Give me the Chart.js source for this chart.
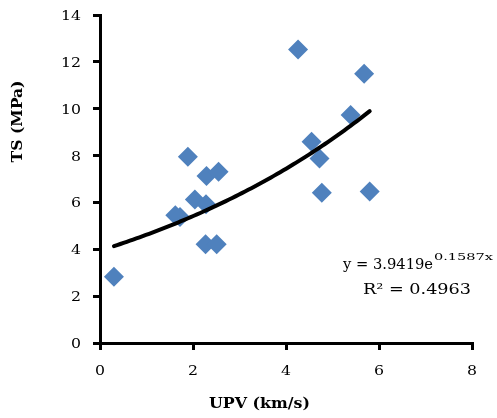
<!DOCTYPE html>
<html>
<head>
<meta charset="utf-8">
<script src="https://cdn.jsdelivr.net/npm/chart.js@4/dist/chart.umd.min.js"></script>
<style>
  html, body { margin: 0; padding: 0; background: #ffffff; }
  #wrap { width: 497px; height: 418px; }
</style>
</head>
<body>
<div id="wrap"><canvas id="c" width="497" height="418"></canvas></div>
<script>
// Measured samples: ultrasonic pulse velocity (km/s) vs tensile strength (MPa)
const upv = [0.30, 1.62, 1.72, 1.89, 2.04, 2.28, 2.29, 2.27, 2.51, 2.55, 4.26, 4.55, 4.72, 4.77, 5.39, 5.68, 5.80];
const ts  = [2.83, 5.45, 5.38, 7.95, 6.13, 5.92, 7.13, 4.22, 4.22, 7.31, 12.53, 8.59, 7.88, 6.41, 9.73, 11.49, 6.47];

// Exponential trendline y = A·e^(B·x) and its coefficient of determination
const fitA = 3.9419;
const fitB = 0.1587;
const fitR2 = 0.4963;

// Axis ranges and tick values
const xTicks = [0, 2, 4, 6, 8];
const yTicks = [0, 2, 4, 6, 8, 10, 12, 14];

const xTitle = 'UPV (km/s)';
const yTitle = 'TS (MPa)';

const FONT = "'DejaVu Serif Condensed', serif";

const points = upv.map((x, i) => ({ x: x, y: ts[i] }));

// Trendline sampled across the range of the measurements
const xMin = Math.min(...upv), xMax = Math.max(...upv);
const trend = [];
const nSteps = 80;
for (let i = 0; i <= nSteps; i++) {
  const x = xMin + (xMax - xMin) * i / nSteps;
  trend.push({ x: x, y: fitA * Math.exp(fitB * x) });
}

// Draw text widened horizontally to a given on-screen width
function wideText(ctx, text, x, y, font, width, align) {
  ctx.save();
  ctx.font = font;
  const w = ctx.measureText(text).width;
  const sx = width / w;
  ctx.translate(x, y);
  ctx.scale(sx, 1);
  ctx.textAlign = align;
  ctx.textBaseline = 'alphabetic';
  ctx.fillText(text, 0, 0);
  ctx.restore();
}

// Horizontal stretch used for tick numbers (two digits span ~20px)
function tickStretch(ctx, font) {
  ctx.save();
  ctx.font = font;
  const s = 20 / ctx.measureText('10').width;
  ctx.restore();
  return s;
}

const annotations = {
  id: 'annotations',
  afterDraw(chart) {
    const ctx = chart.ctx;
    const xs = chart.scales.x, ys = chart.scales.y;
    ctx.save();
    ctx.fillStyle = '#000';

    // tick numbers
    const tickFont = '13.5px ' + FONT;
    const s = tickStretch(ctx, tickFont);
    ctx.font = tickFont;
    yTicks.forEach(v => {
      const label = String(v);
      const w = ctx.measureText(label).width * s;
      wideText(ctx, label, 81, ys.getPixelForValue(v) + 5, tickFont, w, 'right');
    });
    xTicks.forEach(v => {
      const label = String(v);
      const w = ctx.measureText(label).width * s;
      wideText(ctx, label, xs.getPixelForValue(v), 375, tickFont, w, 'center');
    });

    // axis titles
    wideText(ctx, xTitle, 259.5, 408, 'bold 14px ' + FONT, 101, 'center');
    ctx.save();
    ctx.translate(22, 121.5);
    ctx.rotate(-Math.PI / 2);
    wideText(ctx, yTitle, 0, 0, 'bold 14px ' + FONT, 82, 'center');
    ctx.restore();

    // equation: y = A e^(Bx)
    const mainTxt = 'y = ' + fitA.toFixed(4) + 'e';
    const supTxt = fitB.toFixed(4) + 'x';
    wideText(ctx, mainTxt, 343, 269, '14.5px ' + FONT, 90, 'left');
    wideText(ctx, supTxt, 434, 260, '10px ' + FONT, 59, 'left');

    // R² line
    wideText(ctx, 'R\u00B2 = ' + fitR2.toFixed(4), 363, 294, '14.5px ' + FONT, 108, 'left');
    ctx.restore();
  }
};

new Chart(document.getElementById('c'), {
  type: 'scatter',
  data: {
    datasets: [
      {
        label: 'TS',
        data: points,
        pointStyle: 'rectRot',
        pointRadius: 10,
        pointHoverRadius: 10,
        backgroundColor: '#4F81BD',
        borderColor: '#4F81BD',
        borderWidth: 0,
        order: 2,
        clip: false
      },
      {
        label: 'Expon. (TS)',
        type: 'line',
        data: trend,
        borderColor: '#000',
        borderWidth: 4,
        pointRadius: 0,
        fill: false,
        tension: 0,
        borderCapStyle: 'round',
        order: 1,
        clip: false
      }
    ]
  },
  plugins: [annotations],
  options: {
    responsive: false,
    animation: false,
    devicePixelRatio: 1,
    layout: { padding: { left: 0, right: 25, top: 15, bottom: 0 } },
    plugins: {
      legend: { display: false },
      tooltip: { enabled: false },
      title: { display: false }
    },
    scales: {
      x: {
        type: 'linear',
        min: xTicks[0],
        max: xTicks[xTicks.length - 1],
        afterBuildTicks(scale) { scale.ticks = xTicks.map(v => ({ value: v })); },
        afterFit(scale) { scale.height = 75; scale.paddingLeft = 0; scale.paddingRight = 0; },
        border: { display: true, color: '#000', width: 3 },
        grid: { drawOnChartArea: false, drawTicks: true, tickLength: 7, color: '#000', lineWidth: 3 },
        ticks: { display: false }
      },
      y: {
        type: 'linear',
        min: yTicks[0],
        max: yTicks[yTicks.length - 1],
        afterBuildTicks(scale) { scale.ticks = yTicks.map(v => ({ value: v })); },
        afterFit(scale) { scale.width = 100; scale.paddingTop = 0; scale.paddingBottom = 0; },
        border: { display: true, color: '#000', width: 3 },
        grid: { drawOnChartArea: false, drawTicks: true, tickLength: 7, color: '#000', lineWidth: 3 },
        ticks: { display: false }
      }
    }
  }
});
</script>
</body>
</html>
